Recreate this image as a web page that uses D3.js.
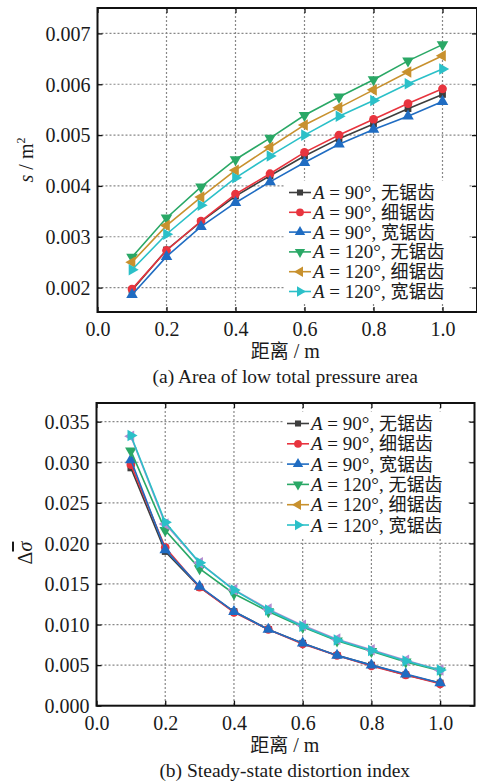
<!DOCTYPE html>
<html>
<head>
<meta charset="utf-8">
<script src="https://cdn.jsdelivr.net/npm/d3@7"></script>
<style>
  body { margin: 0; background: #fff; }
  svg text { font-family: "Liberation Serif", "Times New Roman", "Noto Sans CJK SC", serif; fill: #1a1a1a; }
</style>
</head>
<body>
<svg id="chart" width="477" height="782"></svg>
<script>
// distances along the duct
const distance = [0.1, 0.2, 0.3, 0.4, 0.5, 0.6, 0.7, 0.8, 0.9, 1.0];
const xTicks = [0.0, 0.2, 0.4, 0.6, 0.8, 1.0];

const seriesAngle = ['90°', '90°', '90°', '120°', '120°', '120°'];
const seriesShape = ['无锯齿', '细锯齿', '宽锯齿', '无锯齿', '细锯齿', '宽锯齿'];

// (a) area of low total pressure area, m^2
const area90None  = [0.00195, 0.00274, 0.00330, 0.00380, 0.00420, 0.00459, 0.00493, 0.00522, 0.00552, 0.00580];
const area90Fine  = [0.00197, 0.00273, 0.00331, 0.00384, 0.00424, 0.00466, 0.00500, 0.00531, 0.00562, 0.00591];
const area90Wide  = [0.00186, 0.00261, 0.00320, 0.00367, 0.00408, 0.00446, 0.00482, 0.00511, 0.00537, 0.00566];
const area120None = [0.00260, 0.00337, 0.00398, 0.00452, 0.00494, 0.00539, 0.00575, 0.00609, 0.00646, 0.00678];
const area120Fine = [0.00250, 0.00322, 0.00378, 0.00431, 0.00476, 0.00520, 0.00554, 0.00589, 0.00624, 0.00656];
const area120Wide = [0.00235, 0.00305, 0.00362, 0.00416, 0.00459, 0.00500, 0.00537, 0.00568, 0.00601, 0.00630];
const areaTicks = [0.002, 0.003, 0.004, 0.005, 0.006, 0.007];

// (b) steady-state distortion index
const dist90None  = [0.0293, 0.0190, 0.0146, 0.0116, 0.0094, 0.0077, 0.0062, 0.0050, 0.0038, 0.0028];
const dist90Fine  = [0.0297, 0.0195, 0.0146, 0.0115, 0.0094, 0.0076, 0.0062, 0.0049, 0.0038, 0.0027];
const dist90Wide  = [0.0303, 0.0192, 0.0147, 0.0116, 0.0094, 0.0077, 0.0062, 0.0050, 0.0039, 0.0028];
const dist120None = [0.0314, 0.0216, 0.0169, 0.0138, 0.0116, 0.0097, 0.0080, 0.0067, 0.0054, 0.0043];
const dist120Fine = [0.0332, 0.0224, 0.0176, 0.0143, 0.0119, 0.0099, 0.0082, 0.0069, 0.0056, 0.0044];
const dist120Wide = [0.0333, 0.0226, 0.0176, 0.01425, 0.0118, 0.0098, 0.0081, 0.0068, 0.0055, 0.0044];
const distTicks = [0.000, 0.005, 0.010, 0.015, 0.020, 0.025, 0.030, 0.035];

const colors = ['#3d3d3d', '#e8343e', '#1f6cc2', '#2aa866', '#c8912e', '#2bc0c8'];
const markers = [
  { type: d3.symbolSquare, rot: 0, size: 46 },
  { type: d3.symbolCircle, rot: 0, size: 60 },
  { type: d3.symbolTriangle, rot: 0, size: 58 },
  { type: d3.symbolTriangle, rot: 180, size: 58 },
  { type: d3.symbolTriangle, rot: -90, size: 58 },
  { type: d3.symbolTriangle, rot: 90, size: 58 }
];

const svg = d3.select('#chart');

function drawPanel(opt) {
  const x = d3.scaleLinear().domain([0, 1.1]).range([opt.left, opt.right]);
  const y = d3.scaleLinear().domain(opt.yDomain).range([opt.bottom, opt.top]);
  const g = svg.append('g');

  // dotted grid
  g.selectAll('.gx').data(xTicks.filter(d => d > 0)).join('line')
    .attr('x1', d => x(d)).attr('x2', d => x(d))
    .attr('y1', opt.top).attr('y2', opt.bottom)
    .attr('stroke', '#888').attr('stroke-width', 1.2).attr('stroke-dasharray', '2,2');
  g.selectAll('.gy').data(opt.yTicks.filter(d => y(d) < opt.bottom - 2)).join('line')
    .attr('x1', opt.left).attr('x2', opt.right)
    .attr('y1', d => y(d)).attr('y2', d => y(d))
    .attr('stroke', '#888').attr('stroke-width', 1.2).attr('stroke-dasharray', '2,2');

  // legend background hides grid
  g.append('rect')
    .attr('x', opt.legend.x - 4).attr('y', opt.legend.y - 12)
    .attr('width', 184).attr('height', 6 * opt.legend.step + 4)
    .attr('fill', '#fff');

  // axes, ticks inward
  const axB = g.append('g').attr('transform', `translate(0,${opt.bottom})`)
    .call(d3.axisBottom(x).tickValues(xTicks).tickSize(-5).tickPadding(10).tickFormat(d3.format('.1f')));
  const axL = g.append('g').attr('transform', `translate(${opt.left},0)`)
    .call(d3.axisLeft(y).tickValues(opt.yTicks).tickSize(-5).tickPadding(7).tickFormat(d3.format(opt.yFormat)));
  g.append('g').attr('transform', `translate(0,${opt.top})`)
    .call(d3.axisTop(x).tickValues(xTicks).tickSize(-5).tickFormat(''));
  g.append('g').attr('transform', `translate(${opt.right},0)`)
    .call(d3.axisRight(y).tickValues(opt.yTicks).tickSize(-5).tickFormat(''));
  g.selectAll('.domain').remove();
  g.selectAll('.tick line').attr('stroke', '#111').attr('stroke-width', 1.3);
  [axB, axL].forEach(a => a.attr('font-family', null).selectAll('text')
    .style('font-family', '"Liberation Serif", "Times New Roman", serif').style('font-size', '20px').attr('fill', '#1a1a1a'));
  axL.selectAll('text').attr('dy', '0.34em');

  // frame
  g.append('rect')
    .attr('x', opt.left).attr('y', opt.top)
    .attr('width', opt.right - opt.left).attr('height', opt.bottom - opt.top)
    .attr('fill', 'none').attr('stroke', '#111').attr('stroke-width', 2);

  // series
  const line = d3.line().x((d, i) => x(distance[i])).y(d => y(d));
  opt.series.forEach((vals, k) => {
    const c = opt.plotColors[k];
    g.append('path').attr('d', line(vals))
      .attr('fill', 'none').attr('stroke', c).attr('stroke-width', 1.6);
    g.selectAll(null).data(vals).join('path')
      .attr('d', d3.symbol().type(markers[k].type).size(markers[k].size))
      .attr('transform', (d, i) => `translate(${x(distance[i])},${y(d)}) rotate(${markers[k].rot})`)
      .attr('fill', c);
  });

  // legend
  const lg = g.append('g').attr('transform', `translate(${opt.legend.x},${opt.legend.y})`);
  seriesAngle.forEach((ang, k) => {
    const row = lg.append('g').attr('transform', `translate(0,${k * opt.legend.step})`);
    row.append('line').attr('x1', 0).attr('x2', 22).attr('stroke', colors[k]).attr('stroke-width', 1.6);
    row.append('path')
      .attr('d', d3.symbol().type(markers[k].type).size(markers[k].size * 0.8))
      .attr('transform', `translate(11,0) rotate(${markers[k].rot})`)
      .attr('fill', colors[k]);
    const t = row.append('text').attr('x', 24).attr('y', 6.5).style('font-size', '19px');
    t.append('tspan').text('A').style('font-style', 'italic');
    t.append('tspan').text(` = ${ang}, `);
    t.append('tspan').text(seriesShape[k]).style('font-family', '"Noto Sans CJK SC", sans-serif').style('font-size', '18px');
  });

  // x label and caption
  const mid = (opt.left + 477) / 2 - 2;
  const xl = g.append('text').attr('x', mid).attr('y', opt.bottom + 46)
    .attr('text-anchor', 'middle').style('font-size', '20px');
  xl.append('tspan').text('距离').style('font-family', '"Noto Sans CJK SC", sans-serif').style('font-size', '19px');
  xl.append('tspan').text(' / m');
  g.append('text').attr('x', mid).attr('y', opt.bottom + 71)
    .attr('text-anchor', 'middle').style('font-size', '19.5px').text(opt.caption);

  return g;
}

const gA = drawPanel({
  left: 97.5, right: 477, top: 8, bottom: 312,
  yDomain: [0.00152, 0.0075], yTicks: areaTicks, yFormat: '.3f',
  series: [area90None, area90Fine, area90Wide, area120None, area120Fine, area120Wide],
  plotColors: colors,
  legend: { x: 289, y: 192.5, step: 19.8 },
  caption: '(a) Area of low total pressure area'
});
const yla = gA.append('text').attr('transform', 'translate(33,160) rotate(-90)')
  .attr('text-anchor', 'middle').style('font-size', '20px');
yla.append('tspan').text('s').style('font-style', 'italic');
yla.append('tspan').text(' / m');
yla.append('tspan').text('2').attr('dy', -8).style('font-size', '12px');

const gB = drawPanel({
  left: 96.5, right: 474.5, top: 403, bottom: 705.7,
  yDomain: [0, 0.0373], yTicks: distTicks, yFormat: '.3f',
  series: [dist90None, dist90Fine, dist90Wide, dist120None, dist120Fine, dist120Wide],
  plotColors: ['#3d3d3d', '#e8343e', '#1f6cc2', '#2aa866', '#b48cd0', '#2bc0c8'],
  legend: { x: 287, y: 423.5, step: 20.3 },
  caption: '(b) Steady-state distortion index'
});
const ylb = gB.append('text').attr('transform', 'translate(32,553) rotate(-90)')
  .attr('text-anchor', 'middle').style('font-size', '20px');
ylb.append('tspan').text('Δ');
ylb.append('tspan').text('σ').style('font-style', 'italic').style('text-decoration', 'overline');
</script>
</body>
</html>
